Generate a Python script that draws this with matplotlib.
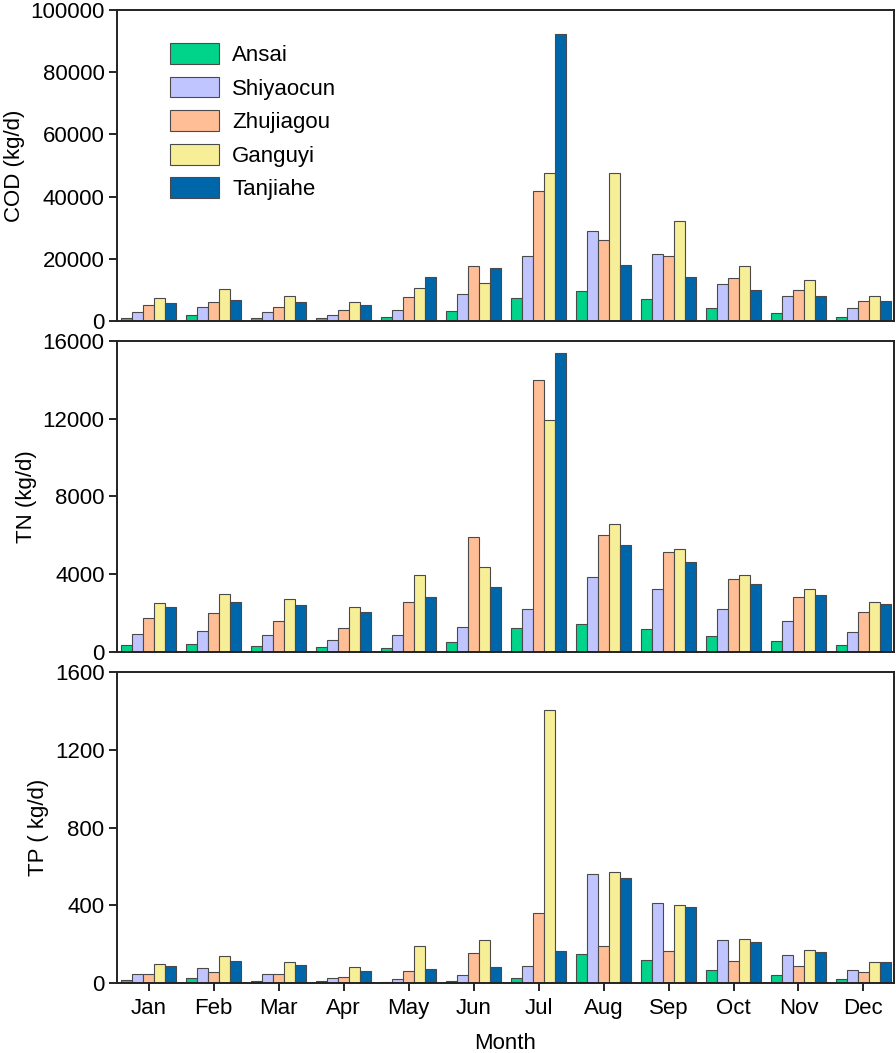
import numpy as np
import matplotlib
matplotlib.use("Agg")
import matplotlib.pyplot as plt

plt.rcParams["font.family"] = ["Liberation Sans", "DejaVu Sans"]

months = ["Jan", "Feb", "Mar", "Apr", "May", "Jun",
          "Jul", "Aug", "Sep", "Oct", "Nov", "Dec"]
stations = ["Ansai", "Shiyaocun", "Zhujiagou", "Ganguyi", "Tanjiahe"]
colors = ["#00D48A", "#C0C5FF", "#FFBE96", "#F7EE98", "#0066AA"]

# COD (kg/d)
cod_ansai = [1050, 1800, 960, 960, 1380, 3200, 7400, 9500, 7200, 4200, 2570, 1380]
cod_shiyaocun = [2900, 4500, 2900, 1800, 3400, 8550, 20800, 28800, 21400, 11900, 7900, 4050]
cod_zhujiagou = [5240, 6200, 4600, 3400, 7600, 17800, 41900, 26100, 20900, 13900, 9970, 6430]
cod_ganguyi = [7270, 10400, 8000, 6200, 10700, 12100, 47600, 47500, 32300, 17600, 13050, 8140]
cod_tanjiahe = [5880, 6750, 6200, 5130, 14250, 17000, 92300, 17900, 14300, 9850, 8040, 6430]

# TN (kg/d)
tn_ansai = [343, 430, 310, 240, 190, 515, 1220, 1425, 1200, 840, 570, 380]
tn_shiyaocun = [910, 1080, 860, 635, 875, 1270, 2230, 3880, 3260, 2200, 1580, 1050]
tn_zhujiagou = [1770, 2030, 1610, 1250, 2580, 5900, 13970, 6040, 5170, 3780, 2830, 2060]
tn_ganguyi = [2540, 2970, 2750, 2330, 3980, 4360, 11910, 6560, 5290, 3980, 3260, 2590]
tn_tanjiahe = [2320, 2580, 2420, 2040, 2815, 3350, 15360, 5480, 4650, 3500, 2940, 2455]

# TP (kg/d)
tp_ansai = [15, 24, 12, 12, 7, 12, 27, 149, 117, 67, 41, 19]
tp_shiyaocun = [48, 79, 48, 27, 21, 41, 89, 561, 412, 221, 144, 69]
tp_zhujiagou = [48, 58, 45, 33, 63, 153, 360, 192, 163, 115, 86, 58]
tp_ganguyi = [98, 137, 106, 81, 190, 221, 1406, 573, 401, 226, 168, 106]
tp_tanjiahe = [86, 111, 93, 62, 72, 81, 166, 542, 389, 211, 158, 106]

panels = [
    ("COD (kg/d)", [cod_ansai, cod_shiyaocun, cod_zhujiagou, cod_ganguyi, cod_tanjiahe],
     100000, 20000),
    ("TN (kg/d)", [tn_ansai, tn_shiyaocun, tn_zhujiagou, tn_ganguyi, tn_tanjiahe],
     16000, 4000),
    ("TP ( kg/d)", [tp_ansai, tp_shiyaocun, tp_zhujiagou, tp_ganguyi, tp_tanjiahe],
     1600, 400),
]

fig = plt.figure(figsize=(8.96, 10.53), dpi=100)
W, H = 896, 1053
left, right = 117, 894
tops = [10, 341, 672]
bottoms = [321, 652, 983]

x = np.arange(len(months))
bw = 0.17
fs = 16

for i, (ylabel, series, ymax, ystep) in enumerate(panels):
    ax = fig.add_axes([left / W, 1 - bottoms[i] / H,
                       (right - left) / W, (bottoms[i] - tops[i]) / H])
    for j, vals in enumerate(series):
        ax.bar(x + (j - 2) * bw, vals, width=bw, color=colors[j],
               edgecolor="#4a4a4a", linewidth=0.8, label=stations[j], zorder=2)
    ax.set_xlim(-0.49, 11.47)
    ax.set_ylim(0, ymax)
    ax.set_yticks(np.arange(0, ymax + 1, ystep))
    ax.set_ylabel(ylabel, fontsize=fs, labelpad=4)
    ax.tick_params(axis="y", direction="out", length=5.5, width=1.2,
                   labelsize=fs, pad=3.5)
    for s in ax.spines.values():
        s.set_linewidth(1.4)
        s.set_color("#222222")
    if i < 2:
        ax.tick_params(axis="x", bottom=False, labelbottom=False)
    else:
        ax.set_xticks(x)
        ax.set_xticklabels(months)
        ax.tick_params(axis="x", direction="out", length=6, width=1.2,
                       labelsize=fs, pad=5)
        ax.set_xlabel("Month", fontsize=fs, labelpad=10)
    if i == 0:
        ax.legend(loc="upper left", bbox_to_anchor=(0.068, 0.893),
                  frameon=False, fontsize=fs, handlelength=2.2,
                  handleheight=1.05, handletextpad=0.6, labelspacing=0.48,
                  borderpad=0, borderaxespad=0)

fig.savefig("out.png", dpi=100)
